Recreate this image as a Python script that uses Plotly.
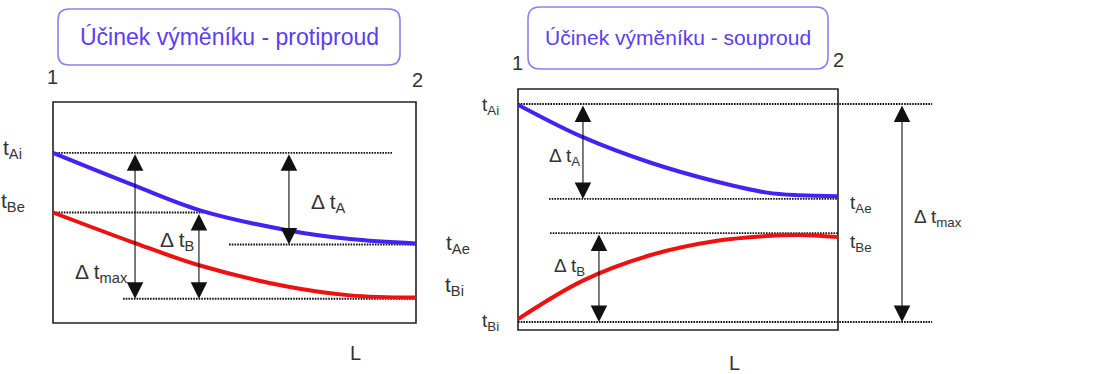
import plotly.graph_objects as go

W, H = 1103, 374
FONT = "Liberation Sans, Arial, sans-serif"
INK = "#333333"
BLUE = "#4422f2"
RED = "#ee1111"
TITLE_TXT = "#5b3df2"
TITLE_LINE = "#8c80f0"

# ---- protiproud (counterflow): relative length L, temperatures of A and B ----
L_cf = [0.0, 0.22, 0.405, 0.645, 0.818, 1.0]
tA_cf = [77.0, 62.5, 51.0, 42.0, 38.0, 36.0]
tB_cf = [50.0, 36.5, 26.0, 16.5, 12.5, 11.5]
cf_tAi, cf_tBe, cf_tAe, cf_tBi = 77.0, 50.0, 35.5, 11.0

# ---- souproud (parallel flow) ----
L_pf = [0.0, 0.203, 0.4125, 0.622, 0.778, 0.88, 1.0]
tA_pf = [93.5, 80.0, 69.5, 61.5, 57.0, 55.9, 55.5]
tB_pf = [4.5, 20.5, 31.0, 37.0, 39.0, 39.4, 38.6]
pf_tAi, pf_tAe, pf_tBe, pf_tBi = 93.8, 54.4, 40.2, 3.3


def panel_axes(box, pad_l, pad_r, pad_t, pad_b):
    """Axis domain/range so that L 0..1 and t 0..100 fill the framed box (pixels)."""
    x0, x1, y0, y1 = box
    sx, sy = x1 - x0, y1 - y0
    xa = dict(domain=[(x0 - pad_l) / W, (x1 + pad_r) / W],
              range=[-pad_l / sx, 1 + pad_r / sx], visible=False, fixedrange=True)
    ya = dict(domain=[1 - (y1 + pad_b) / H, 1 - (y0 - pad_t) / H],
              range=[-pad_b / sy * 100, 100 + pad_t / sy * 100], visible=False, fixedrange=True)
    return xa, ya


fig = go.Figure()

xa1, ya1 = panel_axes((53, 416, 102, 323), 8, 8, 8, 8)
xa2, ya2 = panel_axes((518, 838, 89, 330), 8, 102, 8, 8)


def level(xr, yr, x0, x1, v):
    fig.add_trace(go.Scatter(x=[x0, x1], y=[v, v], mode="lines", xaxis=xr, yaxis=yr,
                             line=dict(color="#111111", width=1.9, dash="1.6px,1.1px"),
                             hoverinfo="skip", showlegend=False))


def curve(xr, yr, xs, ys, color):
    fig.add_trace(go.Scatter(x=xs, y=ys, mode="lines", xaxis=xr, yaxis=yr,
                             line=dict(color=color, width=4, shape="spline", smoothing=1.0),
                             hoverinfo="skip", showlegend=False))


def arrow(xr, yr, x, t_from, t_to):
    fig.add_annotation(x=x, y=t_to, ax=x, ay=t_from, xref=xr, yref=yr, axref=xr, ayref=yr,
                       text="", showarrow=True, arrowhead=2, arrowside="end+start",
                       arrowsize=3.0, arrowwidth=1.1, arrowcolor="#111111", standoff=0,
                       startstandoff=0)


def label(text, xr, yr, x, y, xanchor="left", yshift=0, size=19):
    fig.add_annotation(text=text, x=x, y=y, xref=xr, yref=yr, showarrow=False,
                       xanchor=xanchor, yanchor="middle", yshift=yshift,
                       font=dict(family=FONT, size=size, color=INK))


def frame(xr, yr):
    fig.add_shape(type="rect", xref=xr, yref=yr, x0=0, x1=1, y0=0, y1=100,
                  line=dict(color="#222222", width=1.6), layer="below")


def title_box(x0, y0, x1, y1, r, text, size):
    P = lambda x, y: f"{x / W:.5f},{1 - y / H:.5f}"
    path = (f"M {P(x0 + r, y0)} L {P(x1 - r, y0)} Q {P(x1, y0)} {P(x1, y0 + r)} "
            f"L {P(x1, y1 - r)} Q {P(x1, y1)} {P(x1 - r, y1)} L {P(x0 + r, y1)} "
            f"Q {P(x0, y1)} {P(x0, y1 - r)} L {P(x0, y0 + r)} Q {P(x0, y0)} {P(x0 + r, y0)} Z")
    fig.add_shape(type="path", path=path, xref="paper", yref="paper",
                  line=dict(color=TITLE_LINE, width=1.6))
    fig.add_annotation(text=text, x=(x0 + x1) / 2 / W, y=1 - (y0 + y1) / 2 / H,
                       xref="paper", yref="paper", showarrow=False,
                       xanchor="center", yanchor="middle",
                       font=dict(family=FONT, size=size, color=TITLE_TXT))


def paper_text(text, x, y, size=20):
    fig.add_annotation(text=text, x=x / W, y=1 - y / H, xref="paper", yref="paper",
                       showarrow=False, xanchor="center", yanchor="middle",
                       font=dict(family=FONT, size=size, color=INK))


# ================= left panel: protiproud =================
frame("x", "y")
level("x", "y", 0.0, 0.934, cf_tAi)
level("x", "y", 0.0, 0.413, cf_tBe)
level("x", "y", 0.485, 1.0, cf_tAe)
level("x", "y", 0.193, 1.0, cf_tBi)
curve("x", "y", L_cf, tA_cf, BLUE)
curve("x", "y", L_cf, tB_cf, RED)
arrow("x", "y", 0.226, cf_tAi, cf_tBi)
arrow("x", "y", 0.402, cf_tBe, cf_tBi)
arrow("x", "y", 0.650, cf_tAi, cf_tAe)

label("t<sub>Ai</sub>", "x domain", "y", -0.055, cf_tAi, "right", yshift=4, size=21)
label("t<sub>Be</sub>", "x domain", "y", -0.047, cf_tBe, "right", yshift=11, size=21)
label("t<sub>Ae</sub>", "x domain", "y", 1.052, cf_tAe, "left", yshift=1, size=21)
label("t<sub>Bi</sub>", "x domain", "y", 1.050, cf_tBi, "left", yshift=13, size=21)
label("Δ t<sub>A</sub>", "x", "y", 0.705, 54.3, size=21)
label("Δ t<sub>B</sub>", "x", "y", 0.290, 37.1, size=21)
label("Δ t<sub>max</sub>", "x", "y", 0.055, 22.6, size=21)

title_box(58, 9, 400, 65, 11, "Účinek výměníku - protiproud", 23)
paper_text("1", 52, 77)
paper_text("2", 417, 80)
paper_text("L", 355, 353)

# ================= right panel: souproud =================
frame("x2", "y2")
level("x2", "y2", 0.0, 1.294, pf_tAi)
level("x2", "y2", 0.097, 0.997, pf_tAe)
level("x2", "y2", 0.100, 1.0, pf_tBe)
level("x2", "y2", 0.0, 1.294, pf_tBi)
curve("x2", "y2", L_pf, tA_pf, BLUE)
curve("x2", "y2", L_pf, tB_pf, RED)
arrow("x2", "y2", 0.203, pf_tAi, pf_tAe)
arrow("x2", "y2", 0.253, pf_tBe, pf_tBi)
arrow("x2", "y2", 1.200, pf_tAi, pf_tBi)

label("t<sub>Ai</sub>", "x2 domain", "y2", -0.022, pf_tAi, "right", yshift=-2)
label("t<sub>Bi</sub>", "x2 domain", "y2", -0.022, pf_tBi, "right", yshift=0)
label("t<sub>Ae</sub>", "x2 domain", "y2", 0.787, pf_tAe, "left", yshift=-5)
label("t<sub>Be</sub>", "x2 domain", "y2", 0.787, pf_tBe, "left", yshift=-10)
label("Δ t<sub>A</sub>", "x2", "y2", 0.091, 71.8)
label("Δ t<sub>B</sub>", "x2", "y2", 0.106, 26.1)
label("Δ t<sub>max</sub>", "x2", "y2", 1.231, 46.5)

title_box(528, 7, 828, 69, 12, "Účinek výměníku - souproud", 21)
paper_text("1", 517, 63)
paper_text("2", 838, 60)
paper_text("L", 735, 363)

fig.update_layout(
    width=W, height=H, margin=dict(l=0, r=0, t=0, b=0),
    paper_bgcolor="white", plot_bgcolor="rgba(0,0,0,0)",
    xaxis=xa1, yaxis=ya1, xaxis2=xa2, yaxis2=ya2,
    showlegend=False,
)

fig.write_html("out.html")
